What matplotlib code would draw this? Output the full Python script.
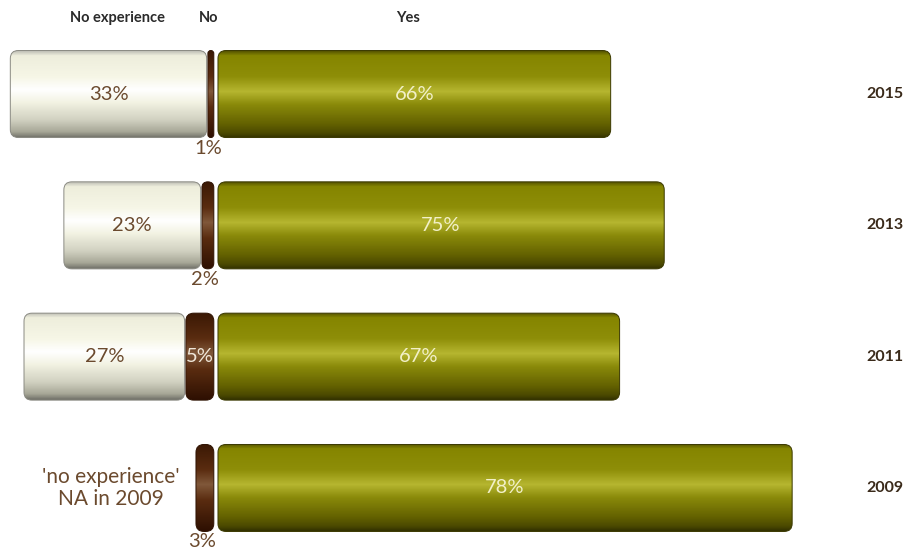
import numpy as np
import matplotlib
matplotlib.use("Agg")
from matplotlib import pyplot as plt
from matplotlib.patches import FancyBboxPatch
from matplotlib.colors import LinearSegmentedColormap

years = ["2015", "2013", "2011", "2009"]
no_exp = [33, 23, 27, None]      # 'no experience' not asked in 2009
no_pct = [1, 2, 5, 3]
yes_pct = [66, 75, 67, 78]
# bar lengths as drawn in the source (2009 "Yes" bar is drawn longer than its label)
no_len = [1, 2, 4.7, 3]
yes_len = [66, 75, 67.5, 96.5]
headers = ["No experience", "No", "Yes"]

plt.rcParams['font.family'] = ['Lato', 'DejaVu Sans']

W, H = 912, 555
fig = plt.figure(figsize=(W / 100, H / 100), dpi=100)
ax = fig.add_axes([0, 0, 1, 1])
px_x = 5.95      # pixels per percent
px_y = 131.3     # pixels per row
x0 = -215 / px_x
ax.set_xlim(x0, x0 + W / px_x)
ax.set_ylim(3 + (H - 488) / px_y, -94 / px_y)
ax.axis("off")

bar_h = 87 / px_y
aspect = px_x / px_y

# colour stops listed top -> bottom of the bar
cm_yes = LinearSegmentedColormap.from_list("yes", [
    (0, "#4e4c00"), (0.06, "#858500"), (0.3, "#8e8e08"), (0.47, "#b6b630"),
    (0.62, "#8a8a0a"), (0.85, "#626000"), (0.95, "#4a4800"), (1, "#333200")])
cm_no = LinearSegmentedColormap.from_list("no", [
    (0, "#3a1804"), (0.3, "#5a2c10"), (0.47, "#80583a"), (0.65, "#5a2c10"), (1, "#2e1002")])
cm_exp = LinearSegmentedColormap.from_list("exp", [
    (0, "#b8b8b0"), (0.06, "#eeeedc"), (0.3, "#f6f6e6"), (0.45, "#ffffff"),
    (0.6, "#f2f2e2"), (0.8, "#d0d0c0"), (0.93, "#a8a898"), (1, "#707068")])
grad = np.linspace(1, 0, 200).reshape(-1, 1)


def bar(left, width, yc, cmap, edge):
    r = min(8 / px_x, width / 2)
    patch = FancyBboxPatch((left, yc - bar_h / 2), width, bar_h,
                           boxstyle="round,pad=0,rounding_size=%f" % r,
                           mutation_aspect=aspect,
                           facecolor="none", edgecolor=edge, linewidth=0.7, zorder=3)
    ax.add_patch(patch)
    im = ax.imshow(grad, cmap=cmap, aspect="auto", origin="lower",
                   extent=(left, left + width, yc + bar_h / 2, yc - bar_h / 2), zorder=2)
    im.set_clip_path(patch)


fs = 14.5
gap_yes = 0.5
gap_no = 0.2
for i, yr in enumerate(years):
    yc = i
    yes_left = gap_yes
    bar(yes_left, yes_len[i], yc, cm_yes, "#3a3800")
    ax.text(yes_left + yes_len[i] / 2, yc, "%d%%" % yes_pct[i], ha="center", va="center",
            fontsize=fs, color="#f2f0c8", zorder=4)

    no_left = -gap_no - no_len[i]
    bar(no_left, no_len[i], yc, cm_no, "#2e1202")
    if no_pct[i] >= 5:
        ax.text(no_left + no_len[i] / 2, yc, "%d%%" % no_pct[i], ha="center", va="center",
                fontsize=fs, color="#efe6d8", zorder=4)
    else:
        ax.text(no_left + no_len[i] / 2 - 0.5, yc + bar_h / 2 + 2 / px_y, "%d%%" % no_pct[i],
                ha="center", va="top", fontsize=fs, color="#6b4a2e", zorder=4)

    if no_exp[i] is not None:
        exp_left = no_left - gap_no - no_exp[i]
        bar(exp_left, no_exp[i], yc, cm_exp, "#8a8a82")
        ax.text(exp_left + no_exp[i] / 2, yc, "%d%%" % no_exp[i], ha="center", va="center",
                fontsize=fs, color="#6b4a2e", zorder=4)
    else:
        ax.text(-104 / px_x, yc, "'no experience'\nNA in 2009", ha="center", va="center",
                fontsize=15, color="#6b4a2e", linespacing=1.15)

    ax.text((885 - 215) / px_x, yc, yr, ha="center", va="center", fontsize=11.5,
            fontweight="bold", color="#3a2a1a")

hy = -76 / px_y
ax.text(-98 / px_x, hy, headers[0], ha="center", va="center", fontsize=10.5, fontweight="bold", color="#2a2a2a")
ax.text(-6 / px_x, hy, headers[1], ha="center", va="center", fontsize=10.5, fontweight="bold", color="#2a2a2a")
ax.text(193 / px_x, hy, headers[2], ha="center", va="center", fontsize=10.5, fontweight="bold", color="#2a2a2a")

fig.savefig("out.png", dpi=100)
